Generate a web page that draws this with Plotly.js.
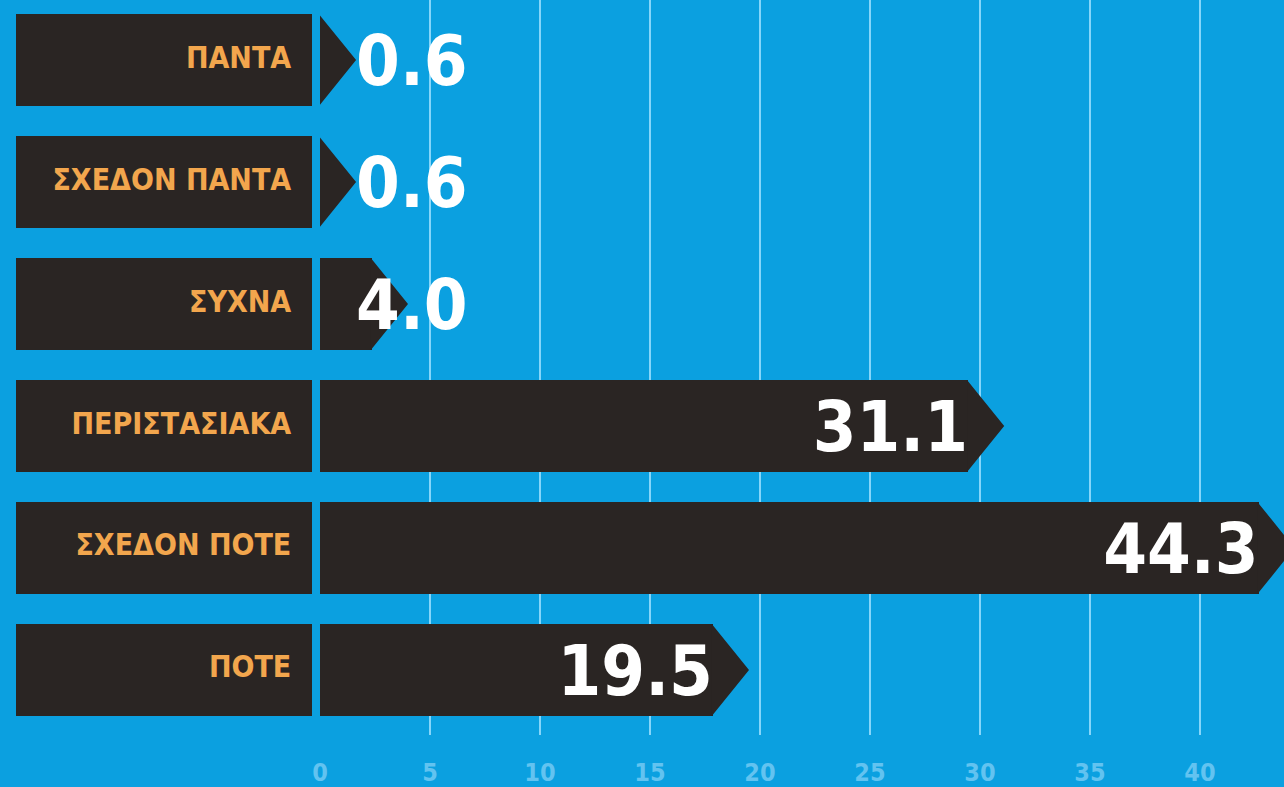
<!DOCTYPE html>
<html>
<head>
<meta charset="utf-8">
<script src="https://cdn.plot.ly/plotly-3.0.1.min.js"></script>
<style>
  html, body { margin: 0; padding: 0; background: #0ba0e0; overflow: hidden; }
  #chart { width: 1284px; height: 787px; }
</style>
</head>
<body>
<div id="chart"></div>
<script>
// ---- data ----
const categories = ['ΠΑΝΤΑ', 'ΣΧΕΔΟΝ ΠΑΝΤΑ', 'ΣΥΧΝΑ', 'ΠΕΡΙΣΤΑΣΙΑΚΑ', 'ΣΧΕΔΟΝ ΠΟΤΕ', 'ΠΟΤΕ'];
const values = [0.6, 0.6, 4.0, 31.1, 44.3, 19.5];
const tickValues = [0, 5, 10, 15, 20, 25, 30, 35, 40];
const tickLabels = ['0', '5', '10', '15', '20', '25', '30', '35', '40'];

// ---- style ----
const BG = '#0ba0e0';
const DARK = '#2a2523';
const ORANGE = '#f2a64d';
const GRID = '#86d6fa';
const TICKCOL = '#62c3f0';
const FONT = 'DejaVu Sans Condensed, Liberation Sans Narrow, sans-serif';
const TIP = 1.64;      // arrow-head length in axis units
const BAR_W = 0.754;   // bar thickness in category units
const TEXT_DROP = 0.06; // small downward nudge of value labels (category units)

const idx = categories.map((_, i) => i);
const bodyEnd = values.map(v => Math.max(v - TIP, 0));

// arrow heads built from the values
const tipX = [], tipY = [];
values.forEach((v, i) => {
  const s = bodyEnd[i];
  tipX.push(s - 0.05, s + TIP, s - 0.05, null);
  tipY.push(i - BAR_W / 2, i, i + BAR_W / 2, null);
});

const big = values.map(v => v >= 10);
const valueX = values.map((v, i) => big[i] ? bodyEnd[i] : TIP);
const valuePos = big.map(b => b ? 'middle left' : 'middle right');

const traces = [
  { // label boxes
    type: 'bar', orientation: 'h', x: categories.map(() => 1), y: idx,
    xaxis: 'x2', yaxis: 'y', width: BAR_W,
    marker: { color: DARK, line: { width: 0 } }, hoverinfo: 'skip', showlegend: false
  },
  { // label text
    type: 'scatter', mode: 'text', x: categories.map(() => 0.93), y: idx,
    xaxis: 'x2', yaxis: 'y', text: categories, textposition: 'middle left',
    textfont: { family: FONT, size: 30, color: ORANGE, weight: 'bold' },
    hoverinfo: 'skip', showlegend: false
  },
  { // bar bodies
    type: 'bar', orientation: 'h', x: bodyEnd, y: idx, width: BAR_W,
    marker: { color: DARK, line: { width: 0 } }, hoverinfo: 'skip', showlegend: false
  },
  { // arrow heads
    type: 'scatter', mode: 'lines', x: tipX, y: tipY, fill: 'toself',
    fillcolor: DARK, line: { width: 0, color: DARK }, hoverinfo: 'skip', showlegend: false
  },
  { // value labels
    type: 'scatter', mode: 'text', x: valueX, y: idx.map(i => i + TEXT_DROP),
    text: values.map(v => v.toFixed(1)), textposition: valuePos,
    textfont: { family: FONT, size: 70, color: '#ffffff', weight: 'bold' },
    cliponaxis: false, hoverinfo: 'skip', showlegend: false
  }
];

const layout = {
  width: 1284, height: 787,
  margin: { l: 0, r: 0, t: 0, b: 52 },
  paper_bgcolor: BG, plot_bgcolor: BG,
  showlegend: false,
  xaxis: {
    domain: [320 / 1284, 1], range: [0, 964 / 22],
    tickvals: tickValues, ticktext: tickLabels,
    showgrid: true, gridcolor: GRID, gridwidth: 2,
    zeroline: true, zerolinecolor: BG, zerolinewidth: 1,
    showline: false, ticks: '', ticklabelstandoff: 20,
    tickfont: { family: FONT, size: 25, color: TICKCOL, weight: 'bold' },
    fixedrange: true
  },
  xaxis2: {
    domain: [16 / 1284, 312 / 1284], range: [0, 1], anchor: 'y',
    showgrid: false, zeroline: false, showticklabels: false, showline: false,
    fixedrange: true
  },
  yaxis: {
    range: [5.533, -0.492], showgrid: false, zeroline: false,
    showticklabels: false, showline: false, fixedrange: true
  },
  bargap: 0
};

Plotly.newPlot('chart', traces, layout, { displayModeBar: false, staticPlot: true });
</script>
</body>
</html>
